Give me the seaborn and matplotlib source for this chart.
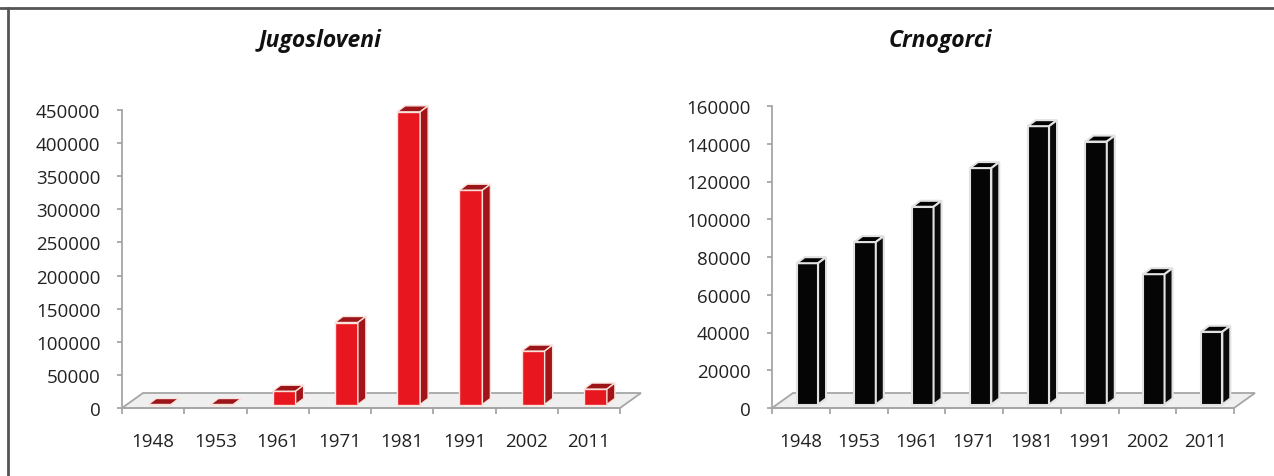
import numpy as np
import pandas as pd
import matplotlib.pyplot as plt
import seaborn as sns
from matplotlib.patches import Polygon
from matplotlib.lines import Line2D

# data
years = ["1948", "1953", "1961", "1971", "1981", "1991", "2002", "2011"]
jugosloveni = [0, 0, 20079, 123824, 441941, 323625, 80721, 23303]
crnogorci = [74860, 86061, 104753, 125260, 147466, 139299, 69049, 38527]

sns.set_style("white")
plt.rcParams["font.family"] = ["Open Sans", "DejaVu Sans"]

W, H = 1274, 477
fig = plt.figure(figsize=(W / 100, H / 100), dpi=100)


def panel(rect_px, values, ymax, step, front, side, top, edge, lw):
    l, t, r, b = rect_px
    ax = fig.add_axes([l / W, 1 - b / H, (r - l) / W, (b - t) / H])
    df = pd.DataFrame({"year": years, "value": values})
    sns.barplot(data=df, x="year", y="value", ax=ax, color=front, saturation=1,
                width=0.37, edgecolor=edge, linewidth=lw, errorbar=None)
    ax.set_xlim(-0.5, len(years) - 0.5)
    ax.set_ylim(0, ymax)

    # pixel -> data units
    ux = len(years) / (r - l)
    uy = ymax / (b - t)
    bdx, bdy = 8 * ux, 6 * uy        # bar depth
    fdx, fdy = 21 * ux, 15 * uy      # floor depth
    sx, sy = 6.5 * ux, 3.5 * uy      # bars sit a bit back on the floor

    floor = Polygon([(-0.5, 0), (len(years) - 0.5, 0),
                     (len(years) - 0.5 + fdx, fdy), (-0.5 + fdx, fdy)],
                    closed=True, facecolor="#efefef", edgecolor="#a6a6a6",
                    linewidth=1.3, zorder=0.5, clip_on=False)
    ax.add_patch(floor)

    for p in list(ax.patches):
        if p is floor:
            continue
        x0 = p.get_x() + sx
        w = p.get_width()
        h = p.get_height()
        p.set_x(x0)
        p.set_y(sy)
        p.set_zorder(2)
        p.set_clip_on(False)
        y1 = sy + h
        ax.add_patch(Polygon([(x0, y1), (x0 + w, y1), (x0 + w + bdx, y1 + bdy), (x0 + bdx, y1 + bdy)],
                             closed=True, facecolor=top, edgecolor=edge, linewidth=lw,
                             zorder=2, clip_on=False))
        ax.add_patch(Polygon([(x0 + w, sy), (x0 + w + bdx, sy + bdy), (x0 + w + bdx, y1 + bdy), (x0 + w, y1)],
                             closed=True, facecolor=side, edgecolor=edge, linewidth=lw,
                             zorder=2, clip_on=False))

    sns.despine(ax=ax, top=True, right=True)
    for s in ["left", "bottom"]:
        ax.spines[s].set_color("#a6a6a6")
        ax.spines[s].set_linewidth(1.3)

    ax.set_yticks(np.arange(0, ymax + 1, step))
    ax.set_yticklabels([str(v) for v in np.arange(0, ymax + 1, step)])
    ax.set_xticks(range(len(years)))
    ax.set_xticklabels(years)
    ax.set_xticks(np.arange(-0.5, len(years), 1), minor=True)
    ax.tick_params(axis="x", which="major", bottom=True, length=0, pad=17,
                   labelsize=13.5, colors="#222222")
    ax.tick_params(axis="x", which="minor", bottom=True, length=4.5, width=1.3,
                   color="#a6a6a6", direction="out")
    ax.tick_params(axis="y", left=True, length=3.5, width=1.3, color="#a6a6a6",
                   direction="out", pad=12, labelsize=13.5, labelcolor="#222222")
    ax.set_xlabel("")
    ax.set_ylabel("")
    ax.patch.set_alpha(0)
    return ax


panel((122, 111, 620, 409), jugosloveni, 450000, 50000,
      "#e8161f", "#a3141a", "#9c1519", "#fbe3dc", 1.0)
panel((772, 107, 1234, 409), crnogorci, 160000, 20000,
      "#050505", "#0a0a0a", "#000000", "#e2e2e2", 1.5)

fig.text(320 / W, 1 - 41 / H, "Jugosloveni", ha="center", va="center", fontsize=16.5,
         fontweight="bold", style="italic", color="#111111")
fig.text(940 / W, 1 - 41 / H, "Crnogorci", ha="center", va="center", fontsize=16.5,
         fontweight="bold", style="italic", color="#111111")

# frame lines
fig.add_artist(Line2D([0, 1], [1 - 9 / H, 1 - 9 / H], color="#555555", linewidth=2))
fig.add_artist(Line2D([8 / W, 8 / W], [0, 1 - 9 / H], color="#555555", linewidth=2))

fig.savefig("out.png", dpi=100)
